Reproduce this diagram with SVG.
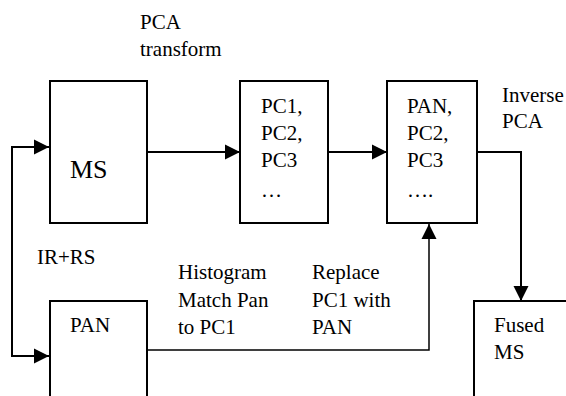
<svg xmlns="http://www.w3.org/2000/svg" width="566" height="396" viewBox="0 0 566 396">
  <style>
    .box { fill: #fff; stroke: #000; stroke-width: 2; }
    .t { font-family: 'Liberation Serif', Tinos, 'Times New Roman', Times, 'DejaVu Serif', serif; font-size: 21px; fill: #000; }
    .big { font-size: 26px; }
    .wire { fill: none; stroke: #000; stroke-width: 2; }
    .thin { stroke-width: 1.5; }
  </style>
  <defs>
    <marker id="arrow" markerUnits="userSpaceOnUse" markerWidth="16" markerHeight="16" viewBox="0 0 16 16" refX="15" refY="8" orient="auto-start-reverse">
      <path d="M0,0.5 L15,8 L0,15.5 Z" fill="#000"/>
    </marker>
  </defs>
  <rect width="566" height="396" fill="#fff"/>

  <!-- free labels -->
  <g id="labels">
    <text class="t" x="140" y="29">PCA</text>
    <text class="t" x="140" y="56">transform</text>
    <text class="t" x="502" y="102">Inverse</text>
    <text class="t" x="502" y="128">PCA</text>
    <text class="t" x="37" y="264">IR+RS</text>
    <text class="t" x="178" y="279">Histogram</text>
    <text class="t" x="178" y="307">Match Pan</text>
    <text class="t" x="178" y="334">to PC1</text>
    <text class="t" x="312" y="279">Replace</text>
    <text class="t" x="312" y="307">PC1 with</text>
    <text class="t" x="312" y="334">PAN</text>
  </g>

  <!-- connectors -->
  <g id="connectors">
    <path class="wire" d="M147,152 H240" marker-end="url(#arrow)"/>
    <path class="wire" d="M328,152 H387" marker-end="url(#arrow)"/>
    <path class="wire" d="M477,152 H521 V301" marker-end="url(#arrow)"/>
    <path class="wire" d="M49,147 H12 V356 H49" marker-start="url(#arrow)" marker-end="url(#arrow)"/>
    <path class="wire thin" d="M147,350 H429 V224" marker-end="url(#arrow)"/>
  </g>

  <g id="ms">
    <rect class="box" x="50" y="81" width="97" height="142"/>
    <text class="t big" x="70" y="178">MS</text>
  </g>

  <g id="pc">
    <rect class="box" x="240" y="81" width="88" height="142"/>
    <text class="t" x="261" y="113">PC1,</text>
    <text class="t" x="261" y="140">PC2,</text>
    <text class="t" x="261" y="167">PC3</text>
    <text class="t" x="261" y="197">…</text>
  </g>

  <g id="pan-pc">
    <rect class="box" x="387" y="81" width="90" height="142"/>
    <text class="t" x="407" y="113">PAN,</text>
    <text class="t" x="407" y="140">PC2,</text>
    <text class="t" x="407" y="167">PC3</text>
    <text class="t" x="407" y="197">….</text>
  </g>

  <g id="pan">
    <rect class="box" x="50" y="301" width="97" height="120"/>
    <text class="t" x="70" y="332">PAN</text>
  </g>

  <g id="fused">
    <rect class="box" x="474" y="301" width="120" height="120"/>
    <text class="t" x="494" y="332">Fused</text>
    <text class="t" x="494" y="359">MS</text>
  </g>
</svg>
